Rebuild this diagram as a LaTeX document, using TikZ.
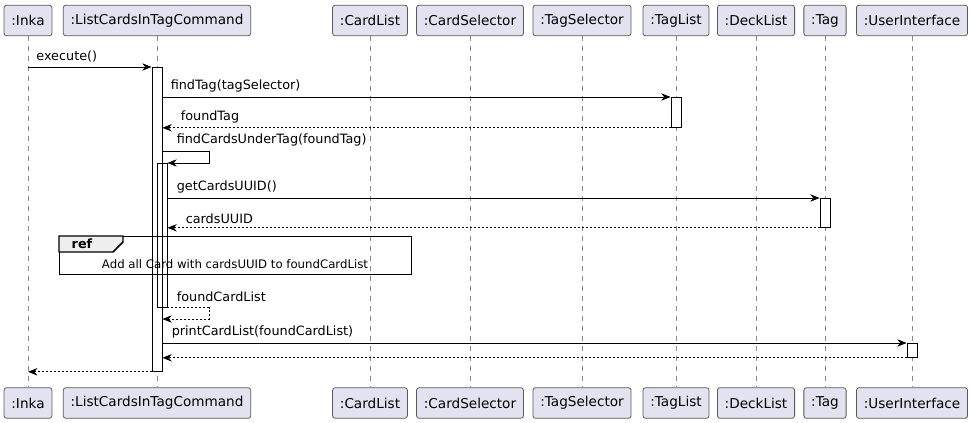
\documentclass[tikz,border=0pt]{standalone}
\usepackage{fontspec}
\setmainfont{DejaVu Sans}
\usetikzlibrary{arrows.meta,calc}

\definecolor{boxfill}{HTML}{E2E2F0}
\definecolor{boxline}{HTML}{5A5A5A}
\definecolor{lifegrey}{HTML}{8A8A8A}
\definecolor{tabfill}{HTML}{EEEEEE}

\tikzset{
  participant/.style={draw=boxline, fill=boxfill, rounded corners=2pt, line width=0.6pt,
    minimum height=23pt, inner xsep=5.5pt, font=\fontsize{10.2}{12}\selectfont},
  lifeline/.style={draw=lifegrey, line width=0.5pt, dash pattern=on 3.75pt off 3.75pt},
  actbar/.style={draw, fill=white, line width=0.6pt, minimum width=7.5pt, inner sep=0pt, anchor=north},
  call/.style={line width=0.6pt, -{Stealth[length=7pt,width=5.5pt,inset=2.2pt]}},
  reply/.style={call, dash pattern=on 1.5pt off 1.5pt},
  msglabel/.style={font=\fontsize{9.6}{11}\selectfont, inner sep=0pt, anchor=south west},
  refframe/.style={draw, line width=1.1pt, inner sep=0pt},
  reftab/.style={draw, fill=tabfill, line width=1.1pt},
}

\begin{document}
\begin{tikzpicture}[x=0.75pt, y=-0.75pt]
\useasboundingbox (0,0) rectangle (971,423);

% participants, top row
\node[participant] (inkaTop) at (28,20.5) {:Inka};
\node[participant] (cmdTop) at (157,20.5) {:ListCardsInTagCommand};
\node[participant] (cardListTop) at (370,20.5) {:CardList};
\node[participant] (cardSelTop) at (470,20.5) {:CardSelector};
\node[participant] (tagSelTop) at (582,20.5) {:TagSelector};
\node[participant] (tagListTop) at (676,20.5) {:TagList};
\node[participant] (deckListTop) at (756,20.5) {:DeckList};
\node[participant] (tagTop) at (825,20.5) {:Tag};
\node[participant] (uiTop) at (912,20.5) {:UserInterface};

% participants, bottom row
\node[participant] (inkaBot) at (28,403) {:Inka};
\node[participant] (cmdBot) at (157,403) {:ListCardsInTagCommand};
\node[participant] (cardListBot) at (370,403) {:CardList};
\node[participant] (cardSelBot) at (470,403) {:CardSelector};
\node[participant] (tagSelBot) at (582,403) {:TagSelector};
\node[participant] (tagListBot) at (676,403) {:TagList};
\node[participant] (deckListBot) at (756,403) {:DeckList};
\node[participant] (tagBot) at (825,403) {:Tag};
\node[participant] (uiBot) at (912,403) {:UserInterface};

% lifelines
\draw[lifeline] (inkaTop) -- (inkaBot);
\draw[lifeline] (cmdTop) -- (cmdBot);
\draw[lifeline] (cardListTop) -- (cardListBot);
\draw[lifeline] (cardSelTop) -- (cardSelBot);
\draw[lifeline] (tagSelTop) -- (tagSelBot);
\draw[lifeline] (tagListTop) -- (tagListBot);
\draw[lifeline] (deckListTop) -- (deckListBot);
\draw[lifeline] (tagTop) -- (tagBot);
\draw[lifeline] (uiTop) -- (uiBot);

% activations
\node[actbar, minimum height=228pt] (cmdAct) at (157,67) {};
\node[actbar, minimum height=22.5pt] (tagListAct) at (676,97) {};
\node[actbar, fill=none, minimum height=108pt] (cmdSubAct) at (162,163) {};
\node[actbar, minimum height=21.75pt] (tagAct) at (825,198) {};
\node[actbar, minimum height=10.5pt] (uiAct) at (912,343) {};

% messages
\draw[call] (inkaTop |- cmdAct.north) -- (cmdAct.north west)
  node[msglabel, at start, xshift=6pt, yshift=3pt] {execute()};
\draw[call] (cmdAct.east |- tagListAct.north west) -- (tagListAct.north west)
  node[msglabel, at start, xshift=6pt, yshift=3pt] {findTag(tagSelector)};
\draw[reply] (tagListAct.south west) -- (cmdAct.east |- tagListAct.south west)
  node[msglabel, at end, xshift=13.5pt, yshift=3pt] {foundTag};

\coordinate (findLoop) at (209,151);
\draw[call] (cmdAct.east |- findLoop) -- (findLoop)
  node[msglabel, at start, xshift=10.5pt, yshift=3pt] {findCardsUnderTag(foundTag)}
  |- (cmdSubAct.north east);

\draw[call] (cmdSubAct.east |- tagAct.north west) -- (tagAct.north west)
  node[msglabel, at start, xshift=6.75pt, yshift=3pt] {getCardsUUID()};
\draw[reply] (tagAct.south west) -- (cmdSubAct.east |- tagAct.south west)
  node[msglabel, at end, xshift=13.5pt, yshift=3pt] {cardsUUID};

% ref frame
\node[refframe, anchor=north west, minimum width=264pt, minimum height=28.5pt] (refBox) at (59,236) {};
\draw[reftab] (refBox.north west) -- ++(64,0) -- ++(0,6) -- ++(-10,10) -- ++(-54,0) -- cycle;
\node[font=\fontsize{9.6}{11}\selectfont\bfseries] (refTitle) at (82,244) {ref};
\node[font=\fontsize{8.8}{11}\selectfont] (refText) at (235,264) {Add all Card with cardsUUID to foundCardList};

\coordinate (backLoop) at (209,319);
\draw[reply] (cmdSubAct.south east) -| (backLoop)
  node[msglabel, at start, xshift=6.75pt, yshift=4.5pt] {foundCardList}
  -- (cmdAct.east |- backLoop);

\draw[call] (cmdAct.east |- uiAct.north west) -- (uiAct.north west)
  node[msglabel, at start, xshift=6.75pt, yshift=3pt] {printCardList(foundCardList)};
\draw[reply] (uiAct.south west) -- (cmdAct.east |- uiAct.south west);
\draw[reply] (cmdAct.south west) -- (inkaTop |- cmdAct.south west);
\end{tikzpicture}
\end{document}
